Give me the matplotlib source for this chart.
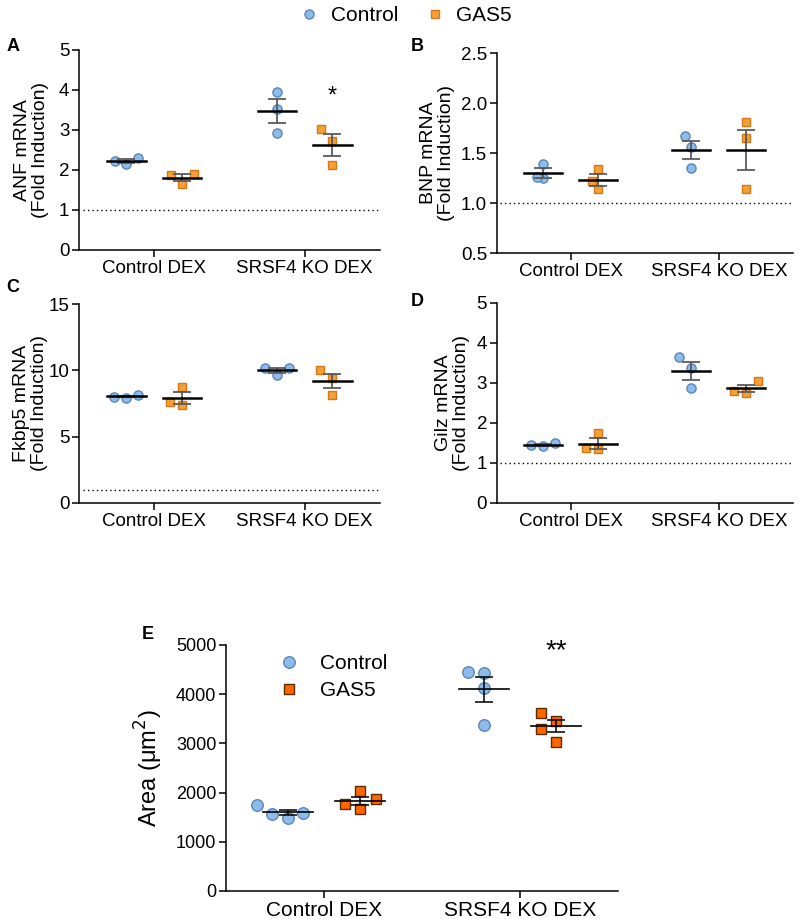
import numpy as np
import matplotlib
matplotlib.use('Agg')
import matplotlib.pyplot as plt
from matplotlib.lines import Line2D

plt.rcParams['font.family'] = ['Liberation Sans', 'DejaVu Sans']

groups = ['Control DEX', 'SRSF4 KO DEX']
series = ['Control', 'GAS5']

# values, [Control DEX, SRSF4 KO DEX]
anf_control = [[2.31, 2.14, 2.23], [3.96, 3.52, 2.92]]
anf_gas5 = [[1.90, 1.64, 1.875], [3.02, 2.73, 2.125]]
bnp_control = [[1.247, 1.39, 1.263], [1.67, 1.353, 1.563]]
bnp_gas5 = [[1.137, 1.337, 1.223], [1.807, 1.653, 1.137]]
fkbp5_control = [[8.15, 7.95, 8.02], [10.2, 9.66, 10.16]]
fkbp5_gas5 = [[8.78, 7.40, 7.60], [10.04, 9.41, 8.16]]
gilz_control = [[1.49, 1.43, 1.45], [3.64, 3.37, 2.87]]
gilz_gas5 = [[1.74, 1.35, 1.37], [3.05, 2.74, 2.80]]
area_control = [[1592, 1490, 1746, 1559], [4426, 4458, 4120, 3375]]
area_gas5 = [[1864, 2040, 1667, 1769], [3612, 3463, 3287, 3035]]

CTRL_FC, CTRL_EC = '#8DBBEA', '#5B86B8'
GAS_FC, GAS_EC = '#F7A035', '#D2791B'
GAS_FC_E, GAS_EC_E = '#FF6600', '#5A2A00'

OFF = 0.185  # sub-group offset


def swarm(ax, xc, vals, step_px, thr_px):
    # simple column swarm in pixel space
    pts = ax.transData.transform([(xc, v) for v in vals])
    placed = []
    cols = np.zeros(len(vals))
    for i in np.argsort(vals):
        y = pts[i, 1]
        for c in [0, -1, 1, -2, 2]:
            if all(abs(y - py) >= thr_px for pc, py in placed if pc == c):
                break
        placed.append((c, y))
        cols[i] = c
    x0 = pts[0, 0]
    inv = ax.transData.inverted()
    return [inv.transform((x0 + c * step_px, 0))[0] for c in cols]


def style_axes(ax, ylim, yticks, yfmt, fs_tick, fs_x):
    ax.set_xlim(-0.5, 1.5)
    ax.set_ylim(*ylim)
    ax.set_yticks(yticks)
    ax.set_yticklabels([yfmt.format(t) for t in yticks], fontsize=fs_tick)
    ax.set_xticks([0, 1])
    ax.set_xticklabels(groups, fontsize=fs_x)
    for s in ['top', 'right']:
        ax.spines[s].set_visible(False)
    for s in ['left', 'bottom']:
        ax.spines[s].set_linewidth(1.1)
    ax.tick_params(direction='out', length=5, width=1.1, pad=2)


def draw_panel(ax, ctrl, gas, step_px, ms, gas_fc, gas_ec, mean_lw, sem_color, sem_lw):
    for gi in range(2):
        for vals, off, mk, fc, ec, s in [(ctrl[gi], -OFF, 'o', CTRL_FC, CTRL_EC, ms),
                                        (gas[gi], OFF, 's', gas_fc, gas_ec, ms - 0.8)]:
            xc = gi + off
            xs = swarm(ax, xc, vals, step_px, 13)
            ax.plot(xs, vals, ls='none', marker=mk, ms=s, mfc=fc, mec=ec, mew=1.0, zorder=2)
            m = np.mean(vals)
            sem = np.std(vals, ddof=1) / np.sqrt(len(vals))
            ax.plot([xc - 0.128, xc + 0.128], [m, m], color='k', lw=mean_lw, zorder=4)
            ax.errorbar(xc, m, yerr=sem, fmt='none', ecolor=sem_color, elinewidth=sem_lw,
                        capsize=6.8, capthick=sem_lw, zorder=3)


fig = plt.figure(figsize=(8, 9.19), dpi=100)

panels = [
    ('A', [0.09875, 0.728, 0.376, 0.2176], anf_control, anf_gas5, 'ANF mRNA', (0, 5), [0, 1, 2, 3, 4, 5], '{:g}', 11.5, -0.1),
    ('B', [0.621, 0.7247, 0.37, 0.2176], bnp_control, bnp_gas5, 'BNP mRNA', (0.5, 2.5), [0.5, 1.0, 1.5, 2.0, 2.5], '{:.1f}', 6, -0.142),
    ('C', [0.09875, 0.4527, 0.376, 0.2165], fkbp5_control, fkbp5_gas5, 'Fkbp5 mRNA', (0, 15), [0, 5, 10, 15], '{:g}', 12, -0.103),
    ('D', [0.621, 0.4527, 0.37, 0.2176], gilz_control, gilz_gas5, 'Gilz mRNA', (0, 5), [0, 1, 2, 3, 4, 5], '{:g}', 12, -0.091),
]
letter_pos = {'A': (0.008, 0.944), 'B': (0.513, 0.944), 'C': (0.008, 0.682), 'D': (0.513, 0.667)}

for letter, rect, ctrl, gas, name, ylim, yticks, yfmt, step, lab_x in panels:
    ax = fig.add_axes(rect)
    style_axes(ax, ylim, yticks, yfmt, 13.5, 13.5)
    ax.axhline(1, xmin=0.012, xmax=1, color='k', lw=1, ls=(0, (1, 2.2)), zorder=1)
    draw_panel(ax, ctrl, gas, step, 6.6, GAS_FC, GAS_EC, 1.8, '#5a5a5a', 1.3)
    ax.set_ylabel(name + '\n(Fold Induction)', fontsize=14, linespacing=1.05)
    ax.yaxis.set_label_coords(lab_x, 0.5)
    fig.text(*letter_pos[letter], letter, fontsize=13, fontweight='bold')
    if letter == 'A':
        ax.text(1 + OFF, 3.83, '*', fontsize=17, ha='center', va='center')

# panel E
axE = fig.add_axes([0.2825, 0.0305, 0.49, 0.2677])
style_axes(axE, (0, 5000), [0, 1000, 2000, 3000, 4000, 5000], '{:d}', 13, 15)
draw_panel(axE, area_control, area_gas5, 15.5, 8.3, GAS_FC_E, GAS_EC_E, 1.2, 'k', 1.1)
axE.set_ylabel('Area (μm$^2$)', fontsize=17)
axE.yaxis.set_label_coords(-0.156, 0.5)
axE.text(1 + OFF, 4880, '**', fontsize=20, ha='center', va='center')
fig.text(0.177, 0.305, 'E', fontsize=13, fontweight='bold')

handles_e = [Line2D([], [], ls='none', marker='o', ms=8.3, mfc=CTRL_FC, mec=CTRL_EC),
             Line2D([], [], ls='none', marker='s', ms=7.5, mfc=GAS_FC_E, mec=GAS_EC_E)]
axE.legend(handles_e, series, loc='upper left', bbox_to_anchor=(0.06, 1.04), frameon=False,
           fontsize=15, handletextpad=0.5, labelspacing=0.4)

# top legend
handles = [Line2D([], [], ls='none', marker='o', ms=6.5, mfc=CTRL_FC, mec=CTRL_EC),
           Line2D([], [], ls='none', marker='s', ms=6, mfc=GAS_FC, mec=GAS_EC)]
fig.legend(handles, series, loc='upper center', bbox_to_anchor=(0.5, 1.014), ncol=2,
           frameon=False, fontsize=15, handletextpad=0.05, columnspacing=0.75)

fig.savefig('out.png', dpi=100)
